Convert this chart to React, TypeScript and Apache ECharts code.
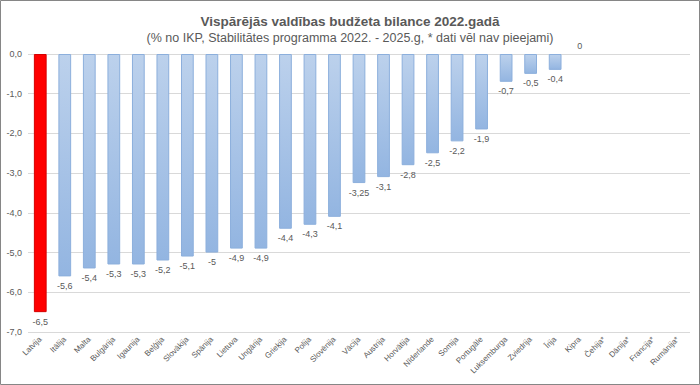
import React, { useEffect, useRef } from "react";
import * as echarts from "echarts";

const categories = [
  "Latvija", "Itālija", "Malta", "Bulgārija", "Igaunija", "Beļģija", "Slovākija",
  "Spānija", "Lietuva", "Ungārija", "Grieķija", "Polija", "Slovēnija", "Vācija",
  "Austrija", "Horvātija", "Nīderlande", "Somija", "Portugāle", "Luksemburga",
  "Zviedrija", "Īrija", "Kipra", "Čehija*", "Dānija*", "Francija*", "Rumānija*",
];
const values: (number | null)[] = [
  -6.5, -5.6, -5.4, -5.3, -5.3, -5.2, -5.1, -5, -4.9, -4.9, -4.4, -4.3, -4.1,
  -3.25, -3.1, -2.8, -2.5, -2.2, -1.9, -0.7, -0.5, -0.4, 0, null, null, null, null,
];
const highlighted = ["Latvija"];
const titleText = "Vispārējās valdības budžeta bilance 2022.gadā";
const subtitleText = "(% no IKP, Stabilitātes programma 2022. - 2025.g, * dati vēl nav pieejami)";

const FONT = "'Liberation Sans', Arial, sans-serif";
const fmt = (v: number) => String(v).replace(".", ",");

export default function App() {
  const ref = useRef<HTMLDivElement>(null);
  useEffect(() => {
    document.body.style.margin = "0";
    const chart = echarts.init(ref.current!, null, { renderer: "svg" });
    const blueGrad = new echarts.graphic.LinearGradient(0, 0, 0, 1, [
      { offset: 0, color: "#bcd1ec" },
      { offset: 1, color: "#93b5e1" },
    ]);
    const data = values.map((v, i) => {
      if (v === null) return null;
      const isHi = highlighted.includes(categories[i]);
      const item: any = {
        value: v,
        itemStyle: isHi
          ? { color: "#ff0000", borderColor: "#d40000", borderWidth: 1 }
          : { color: blueGrad, borderColor: "#8cafdc", borderWidth: v === 0 ? 0 : 1 },
      };
      if (v === 0) item.label = { position: "top", distance: 4 };
      return item;
    });
    chart.setOption({
      animation: false,
      textStyle: { fontFamily: FONT },
      title: [
        {
          text: titleText,
          left: "center",
          top: 9,
          textStyle: { fontSize: 13.5, fontWeight: "bold", color: "#595959", fontFamily: FONT },
        },
        {
          text: subtitleText,
          left: "center",
          top: 26,
          textStyle: { fontSize: 12.5, fontWeight: "normal", color: "#595959", fontFamily: FONT },
        },
      ],
      graphic: [
        {
          type: "rect",
          shape: { x: 0.5, y: 0.5, width: 699, height: 384 },
          style: { fill: "none", stroke: "#868686", lineWidth: 1 },
          silent: true,
        },
      ],
      grid: { left: 28, right: 10, top: 54, bottom: 53, containLabel: false },
      xAxis: {
        type: "category",
        data: categories,
        axisLine: { show: false, onZero: false },
        axisTick: { show: false },
        axisLabel: {
          rotate: 45,
          interval: 0,
          fontSize: 8,
          color: "#595959",
          margin: 6,
        },
      },
      yAxis: {
        type: "value",
        min: -7,
        max: 0,
        interval: 1,
        axisLine: { show: false },
        axisTick: { show: false },
        splitLine: { lineStyle: { color: "#d9d9d9", width: 1 } },
        axisLabel: {
          fontSize: 9,
          color: "#595959",
          margin: 6,
          formatter: (v: number) => v.toFixed(1).replace(".", ","),
        },
      },
      series: [
        {
          type: "bar",
          data,
          barCategoryGap: "48%",
          label: {
            show: true,
            position: "bottom",
            distance: 5,
            fontSize: 9,
            color: "#595959",
            formatter: (p: any) => fmt(p.value),
          },
        },
      ],
    });
    return () => chart.dispose();
  }, []);
  return <div ref={ref} style={{ width: 700, height: 385 }} />;
}
